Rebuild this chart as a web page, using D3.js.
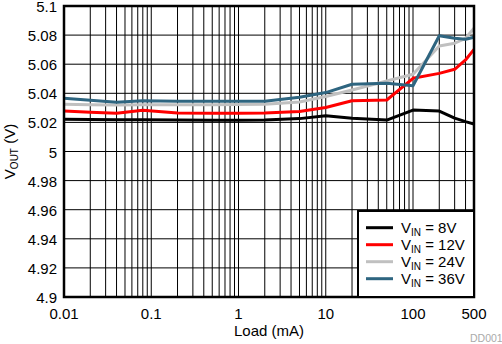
<!DOCTYPE html>
<html>
<head>
<meta charset="utf-8">
<script src="https://cdn.jsdelivr.net/npm/d3@7/dist/d3.min.js"></script>
<style>
  html, body { margin: 0; padding: 0; background: #fff; }
  svg { display: block; }
  text { font-family: "Liberation Sans", Arial, sans-serif; fill: #000; }
</style>
</head>
<body>
<svg id="chart" width="502" height="344"></svg>
<script>
// ---- data ----
const loads = [0.01, 0.02, 0.04, 0.08, 0.2, 0.5, 1, 2, 5, 10, 20, 50, 100, 200, 300, 400, 500];
const vin8  = [5.0222, 5.0220, 5.0218, 5.0218, 5.0216, 5.0215, 5.0215, 5.0216, 5.0226, 5.0246, 5.0229, 5.0216, 5.0285, 5.0278, 5.0229, 5.0205, 5.0188];
const vin12 = [5.0278, 5.0270, 5.0263, 5.0283, 5.0264, 5.0263, 5.0263, 5.0264, 5.0275, 5.0302, 5.0349, 5.0354, 5.0503, 5.0537, 5.0565, 5.0629, 5.0702];
const vin24 = [5.0324, 5.0322, 5.0320, 5.0322, 5.0322, 5.0322, 5.0323, 5.0325, 5.0340, 5.0378, 5.0423, 5.0485, 5.0531, 5.0725, 5.0744, 5.0778, 5.0847];
const vin36 = [5.0366, 5.0352, 5.0338, 5.0348, 5.0346, 5.0345, 5.0345, 5.0345, 5.0373, 5.0405, 5.0462, 5.0469, 5.0452, 5.0796, 5.0778, 5.0771, 5.0785];
const seriesNames = ["8V", "12V", "24V", "36V"];
const xTickValues = [0.01, 0.1, 1, 10, 100, 500];
const xTickLabels = ["0.01", "0.1", "1", "10", "100", "500"];
const yTickValues = [4.9, 4.92, 4.94, 4.96, 4.98, 5, 5.02, 5.04, 5.06, 5.08, 5.1];
const yTickLabels = ["4.9", "4.92", "4.94", "4.96", "4.98", "5", "5.02", "5.04", "5.06", "5.08", "5.1"];

// ---- layout ----
const L = 64, R = 474, T = 6, B = 297;
const colors = ["#000000", "#ff0000", "#c0c0c0", "#2e6580"];
const allSeries = [vin8, vin12, vin24, vin36];

const svg = d3.select("#chart");
const x = d3.scaleLog().domain([0.01, 500]).range([L, R]);
const y = d3.scaleLinear().domain([4.9, 5.1]).range([B, T]);

// grid
const gridX = x.ticks().filter(v => v > 0.01 && v < 500);
svg.append("g").selectAll("line").data(gridX).join("line")
  .attr("x1", d => x(d)).attr("x2", d => x(d))
  .attr("y1", T).attr("y2", B)
  .attr("stroke", "#000").attr("stroke-width", 1);
svg.append("g").selectAll("line").data(yTickValues.slice(1, -1)).join("line")
  .attr("x1", L).attr("x2", R)
  .attr("y1", d => y(d)).attr("y2", d => y(d))
  .attr("stroke", "#000").attr("stroke-width", 1);

// lines
const line = d3.line().x((d, i) => x(loads[i])).y(d => y(d));
allSeries.forEach((s, k) => {
  svg.append("path").datum(s)
    .attr("d", line)
    .attr("fill", "none")
    .attr("stroke", colors[k])
    .attr("stroke-width", 3)
    .attr("stroke-linejoin", "round");
});

// frame
svg.append("rect").attr("x", L).attr("y", T).attr("width", R - L).attr("height", B - T)
  .attr("fill", "none").attr("stroke", "#000").attr("stroke-width", 2.5);

// y tick labels
svg.append("g").selectAll("text").data(yTickValues).join("text")
  .attr("x", 57).attr("y", d => y(d)).attr("dy", "0.4em")
  .attr("text-anchor", "end").attr("font-size", 15)
  .text((d, i) => yTickLabels[i]);

// x tick labels
svg.append("g").selectAll("text").data(xTickValues).join("text")
  .attr("x", d => x(d)).attr("y", 319)
  .attr("text-anchor", "middle").attr("font-size", 15)
  .text((d, i) => xTickLabels[i]);

// axis titles
svg.append("text").attr("x", (L + R) / 2).attr("y", 336)
  .attr("text-anchor", "middle").attr("font-size", 15).text("Load (mA)");

const yt = svg.append("text")
  .attr("transform", `translate(15,${(T + B) / 2}) rotate(-90)`)
  .attr("text-anchor", "middle").attr("font-size", 15);
yt.append("tspan").text("V");
yt.append("tspan").attr("font-size", 10).attr("dy", 3).text("OUT");
yt.append("tspan").attr("dy", -3).text(" (V)");

// legend
const lg = svg.append("g");
lg.append("rect").attr("x", 358).attr("y", 211).attr("width", R - 358).attr("height", B - 211)
  .attr("fill", "#fff").attr("stroke", "#000").attr("stroke-width", 2);
seriesNames.forEach((n, k) => {
  const yy = 227.7 + k * 17;
  lg.append("line").attr("x1", 366).attr("x2", 393).attr("y1", yy).attr("y2", yy)
    .attr("stroke", colors[k]).attr("stroke-width", 3);
  const t = lg.append("text").attr("x", 401).attr("y", yy + 5.5).attr("font-size", 15);
  t.append("tspan").text("V");
  t.append("tspan").attr("font-size", 10).attr("dy", 3).text("IN");
  t.append("tspan").attr("dy", -3).text(" = " + n);
});

// watermark
svg.append("text").attr("x", 470).attr("y", 342).attr("font-size", 10.5)
  .style("fill", "#aaa").text("DD001");
</script>
</body>
</html>
